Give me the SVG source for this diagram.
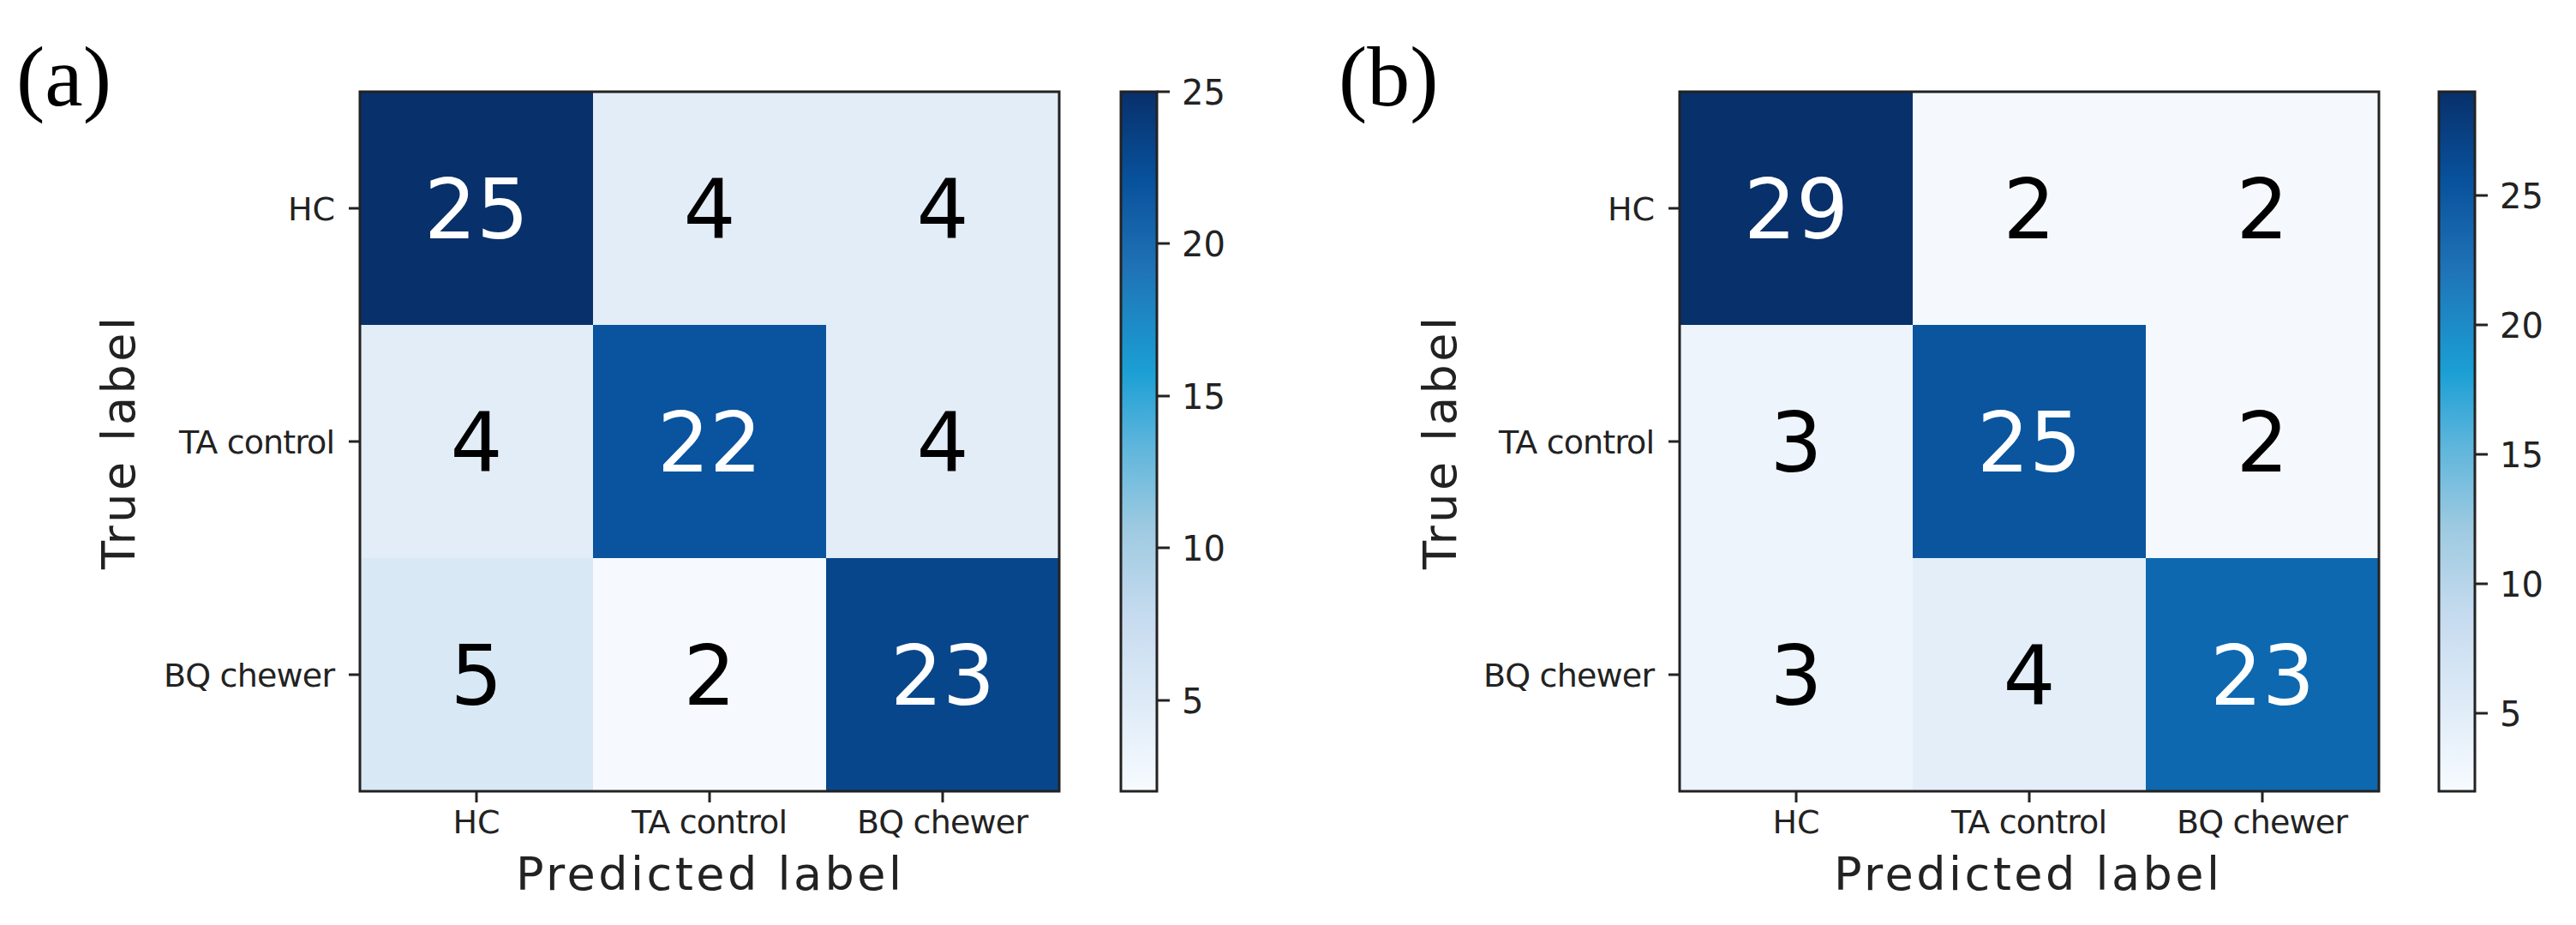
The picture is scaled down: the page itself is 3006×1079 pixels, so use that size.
<svg xmlns="http://www.w3.org/2000/svg" width="3006" height="1079" viewBox="0 0 3006 1079">
<style>
.num{font-family:"DejaVu Sans",sans-serif;font-size:96px;text-anchor:middle}
.w{fill:#fff}.k{fill:#000}
.tick{font-family:"DejaVu Sans",sans-serif;font-size:38px;fill:#222}
.cb{font-family:"DejaVu Sans",sans-serif;font-size:40px;fill:#222}
.ax{font-family:"DejaVu Sans",sans-serif;font-size:54px;fill:#222}
.pl{font-family:"Liberation Serif","Times New Roman",serif;font-size:100px;fill:#000}
.frame{fill:none;stroke:#222;stroke-width:3}
.tk{stroke:#222;stroke-width:3}
</style>
<defs>
<linearGradient id="blues" x1="0" y1="1" x2="0" y2="0">
<stop offset="0" stop-color="#f7fbff"/><stop offset="0.125" stop-color="#deebf7"/>
<stop offset="0.25" stop-color="#c6dbef"/><stop offset="0.375" stop-color="#9ecae1"/>
<stop offset="0.5" stop-color="#5ab4dc"/><stop offset="0.6" stop-color="#1b9fd4"/>
<stop offset="0.75" stop-color="#1f72b6"/><stop offset="0.875" stop-color="#08519c"/>
<stop offset="1" stop-color="#08306b"/>
</linearGradient>
</defs>
<rect width="3006" height="1079" fill="#fff"/>

<g id="panel-a">
<text class="pl" x="19" y="123">(a)</text>
<g id="matrix-a">
<rect x="420" y="107" width="272" height="272" fill="#08306b"/>
<rect x="692" y="107" width="272" height="272" fill="#e2edf8"/>
<rect x="964" y="107" width="272" height="272" fill="#e2edf8"/>
<rect x="420" y="379" width="272" height="272" fill="#e2edf8"/>
<rect x="692" y="379" width="272" height="272" fill="#0a539e"/>
<rect x="964" y="379" width="272" height="272" fill="#e2edf8"/>
<rect x="420" y="651" width="272" height="272" fill="#d9e8f5"/>
<rect x="692" y="651" width="272" height="272" fill="#f6faff"/>
<rect x="964" y="651" width="272" height="272" fill="#08468b"/>
<rect class="frame" x="420" y="107" width="816" height="816"/>
<text class="num w" x="556" y="278">25</text>
<text class="num k" x="828" y="278">4</text>
<text class="num k" x="1100" y="278">4</text>
<text class="num k" x="556" y="550">4</text>
<text class="num w" x="828" y="550">22</text>
<text class="num k" x="1100" y="550">4</text>
<text class="num k" x="556" y="822">5</text>
<text class="num k" x="828" y="822">2</text>
<text class="num w" x="1100" y="822">23</text>
</g>
<g id="ticks-a">
<line class="tk" x1="407" y1="243" x2="420" y2="243"/>
<line class="tk" x1="407" y1="515" x2="420" y2="515"/>
<line class="tk" x1="407" y1="787" x2="420" y2="787"/>
<line class="tk" x1="556" y1="923" x2="556" y2="936"/>
<line class="tk" x1="828" y1="923" x2="828" y2="936"/>
<line class="tk" x1="1100" y1="923" x2="1100" y2="936"/>
<text class="tick" x="391" y="257" text-anchor="end">HC</text>
<text class="tick" x="391" y="529" text-anchor="end" textLength="182">TA control</text>
<text class="tick" x="391" y="801" text-anchor="end" textLength="200">BQ chewer</text>
<text class="tick" x="556" y="972" text-anchor="middle">HC</text>
<text class="tick" x="828" y="972" text-anchor="middle" textLength="182">TA control</text>
<text class="tick" x="1100" y="972" text-anchor="middle" textLength="200">BQ chewer</text>
<text class="ax" x="827" y="1038" text-anchor="middle" textLength="450">Predicted label</text>
<text class="ax" transform="translate(157,517) rotate(-90)" text-anchor="middle" textLength="294">True label</text>
</g>
<g id="colorbar-a">
<rect x="1308" y="107" width="42" height="816" fill="url(#blues)"/>
<rect class="frame" x="1308" y="107" width="42" height="816"/>
<line class="tk" x1="1350" y1="107" x2="1365" y2="107"/>
<line class="tk" x1="1350" y1="284" x2="1365" y2="284"/>
<line class="tk" x1="1350" y1="462" x2="1365" y2="462"/>
<line class="tk" x1="1350" y1="639" x2="1365" y2="639"/>
<line class="tk" x1="1350" y1="817" x2="1365" y2="817"/>
<text class="cb" x="1379" y="122">25</text>
<text class="cb" x="1379" y="299">20</text>
<text class="cb" x="1379" y="477">15</text>
<text class="cb" x="1379" y="654">10</text>
<text class="cb" x="1379" y="832">5</text>
</g>
</g>

<g id="panel-b">
<text class="pl" x="1562" y="123">(b)</text>
<g id="matrix-b">
<rect x="1960" y="107" width="272" height="272" fill="#08306b"/>
<rect x="2232" y="107" width="272" height="272" fill="#f5f9fe"/>
<rect x="2504" y="107" width="272" height="272" fill="#f5f9fe"/>
<rect x="1960" y="379" width="272" height="272" fill="#edf4fc"/>
<rect x="2232" y="379" width="272" height="272" fill="#0b559f"/>
<rect x="2504" y="379" width="272" height="272" fill="#f5f9fe"/>
<rect x="1960" y="651" width="272" height="272" fill="#edf4fc"/>
<rect x="2232" y="651" width="272" height="272" fill="#e3eef9"/>
<rect x="2504" y="651" width="272" height="272" fill="#0d68b0"/>
<rect class="frame" x="1960" y="107" width="816" height="816"/>
<text class="num w" x="2096" y="278">29</text>
<text class="num k" x="2368" y="278">2</text>
<text class="num k" x="2640" y="278">2</text>
<text class="num k" x="2096" y="550">3</text>
<text class="num w" x="2368" y="550">25</text>
<text class="num k" x="2640" y="550">2</text>
<text class="num k" x="2096" y="822">3</text>
<text class="num k" x="2368" y="822">4</text>
<text class="num w" x="2640" y="822">23</text>
</g>
<g id="ticks-b">
<line class="tk" x1="1947" y1="243" x2="1960" y2="243"/>
<line class="tk" x1="1947" y1="515" x2="1960" y2="515"/>
<line class="tk" x1="1947" y1="787" x2="1960" y2="787"/>
<line class="tk" x1="2096" y1="923" x2="2096" y2="936"/>
<line class="tk" x1="2368" y1="923" x2="2368" y2="936"/>
<line class="tk" x1="2640" y1="923" x2="2640" y2="936"/>
<text class="tick" x="1931" y="257" text-anchor="end">HC</text>
<text class="tick" x="1931" y="529" text-anchor="end" textLength="182">TA control</text>
<text class="tick" x="1931" y="801" text-anchor="end" textLength="200">BQ chewer</text>
<text class="tick" x="2096" y="972" text-anchor="middle">HC</text>
<text class="tick" x="2368" y="972" text-anchor="middle" textLength="182">TA control</text>
<text class="tick" x="2640" y="972" text-anchor="middle" textLength="200">BQ chewer</text>
<text class="ax" x="2365" y="1038" text-anchor="middle" textLength="450">Predicted label</text>
<text class="ax" transform="translate(1699,517) rotate(-90)" text-anchor="middle" textLength="294">True label</text>
</g>
<g id="colorbar-b">
<rect x="2846" y="107" width="42" height="816" fill="url(#blues)"/>
<rect class="frame" x="2846" y="107" width="42" height="816"/>
<line class="tk" x1="2888" y1="228" x2="2903" y2="228"/>
<line class="tk" x1="2888" y1="379" x2="2903" y2="379"/>
<line class="tk" x1="2888" y1="530" x2="2903" y2="530"/>
<line class="tk" x1="2888" y1="681" x2="2903" y2="681"/>
<line class="tk" x1="2888" y1="832" x2="2903" y2="832"/>
<text class="cb" x="2917" y="243">25</text>
<text class="cb" x="2917" y="394">20</text>
<text class="cb" x="2917" y="545">15</text>
<text class="cb" x="2917" y="696">10</text>
<text class="cb" x="2917" y="847">5</text>
</g>
</g>
</svg>
